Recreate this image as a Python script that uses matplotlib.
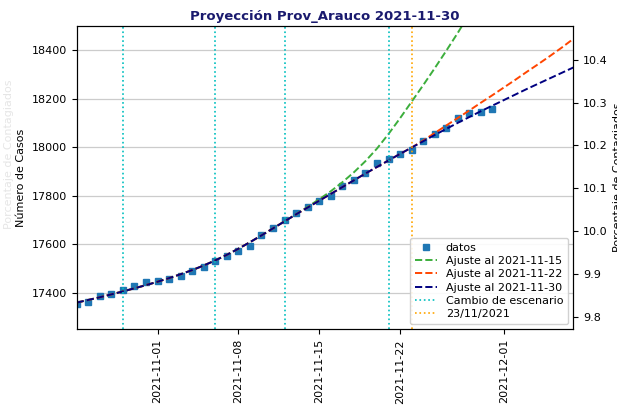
import numpy as np
import pandas as pd
import matplotlib
matplotlib.use("Agg")
import matplotlib.pyplot as plt
import matplotlib.dates as mdates

# observed cases, daily
fechas = pd.date_range("2021-10-25", "2021-11-30", freq="D")
casos = [17356, 17363, 17386, 17397, 17411, 17430, 17443,
         17450, 17456, 17469, 17491, 17507, 17532, 17554, 17573, 17593,
         17639, 17668, 17701, 17731, 17755, 17778, 17799, 17840, 17865,
         17895, 17936, 17951, 17971, 17988, 18026, 18054, 18080, 18122,
         18141, 18146, 18157]

# fitted curves, daily Oct 25 .. Dec 7
fechas_ajuste = pd.date_range("2021-10-25", "2021-12-07", freq="D")
ajuste_1130 = [17360, 17371, 17382, 17394, 17406, 17419, 17432,
               17446, 17461, 17477, 17494, 17513, 17534, 17557, 17582, 17609,
               17637, 17666, 17695, 17724, 17752, 17780, 17808, 17836, 17864,
               17892, 17919, 17946, 17973, 17999, 18025, 18051, 18076, 18101,
               18125, 18149, 18172, 18195, 18218, 18241, 18263, 18285, 18307,
               18329]
ajuste_1122 = [17360, 17371, 17382, 17394, 17406, 17419, 17432,
               17446, 17461, 17477, 17494, 17513, 17534, 17557, 17582, 17609,
               17637, 17666, 17695, 17724, 17752, 17780, 17808, 17836, 17864,
               17892, 17919, 17946, 17973, 17999, 18028, 18059, 18090, 18121,
               18152, 18184, 18215, 18247, 18279, 18312, 18344, 18377, 18411,
               18447]
ajuste_1115 = [17360, 17371, 17382, 17394, 17406, 17419, 17432,
               17446, 17461, 17477, 17494, 17513, 17534, 17557, 17582, 17609,
               17637, 17666, 17695, 17724, 17755, 17786, 17819, 17856, 17897,
               17943, 17995, 18055, 18120, 18188, 18256, 18326, 18398, 18472,
               18550, 18635, 18725, 18820, 18920, 19025, 19135, 19250, 19370,
               19495]

cambios = ["2021-10-29", "2021-11-06", "2021-11-12", "2021-11-21"]
fecha_ref = "2021-11-23"
poblacion = 176550

fig = plt.figure(figsize=(6.17, 4.05), dpi=100)
ax = fig.add_axes([0.1243, 0.1869, 0.8049, 0.7489])

ax.plot(fechas, casos, "s", color="#1f77b4", markersize=4.5, label="datos")
ax.plot(fechas_ajuste, ajuste_1115, "--", color="#3cae3c", lw=1.4, label="Ajuste al 2021-11-15")
ax.plot(fechas_ajuste, ajuste_1122, "--", color="orangered", lw=1.4, label="Ajuste al 2021-11-22")
ax.plot(fechas_ajuste, ajuste_1130, "--", color="navy", lw=1.4, label="Ajuste al 2021-11-30")
for i, f in enumerate(cambios):
    ax.axvline(pd.Timestamp(f), color="c", ls=":", lw=1.2,
               label="Cambio de escenario" if i == 0 else None)
ax.axvline(pd.Timestamp(fecha_ref), color="orange", ls=":", lw=1.2, label="23/11/2021")

ax.set_xlim(pd.Timestamp("2021-10-25"), pd.Timestamp("2021-12-07"))
ax.set_ylim(17250, 18500)
ax.set_yticks([17400, 17600, 17800, 18000, 18200, 18400])
ax.grid(axis="y", color="#cccccc", lw=0.9)
ax.set_axisbelow(True)
ax.xaxis.set_major_locator(mdates.DayLocator(bymonthday=[1, 8, 15, 22]))
ax.xaxis.set_major_formatter(mdates.DateFormatter("%Y-%m-%d"))
ax.tick_params(axis="x", labelrotation=90, labelsize=8)
ax.tick_params(axis="y", labelsize=8)
ax.set_ylabel("Número de Casos", fontsize=8)
ax.set_title("Proyección Prov_Arauco 2021-11-30", fontsize=9.5, fontweight="bold",
             color="#1a1a6e", pad=4)
ax.legend(loc="lower right", fontsize=8, framealpha=0.9, borderpad=0.4,
          labelspacing=0.3, handlelength=2.0)

ax2 = ax.twinx()
lo, hi = ax.get_ylim()
ax2.set_ylim(lo / poblacion * 100, hi / poblacion * 100)
ax2.set_yticks([9.8, 9.9, 10.0, 10.1, 10.2, 10.3, 10.4])
ax2.tick_params(axis="y", labelsize=8)
ax2.set_ylabel("Porcentaje de Contagiados", fontsize=8)

fig.text(0.006, 0.62, "Porcentaje de Contagiados", rotation=90, fontsize=8,
         color="#999999", alpha=0.25, va="center")

fig.savefig("out.png", dpi=100)
